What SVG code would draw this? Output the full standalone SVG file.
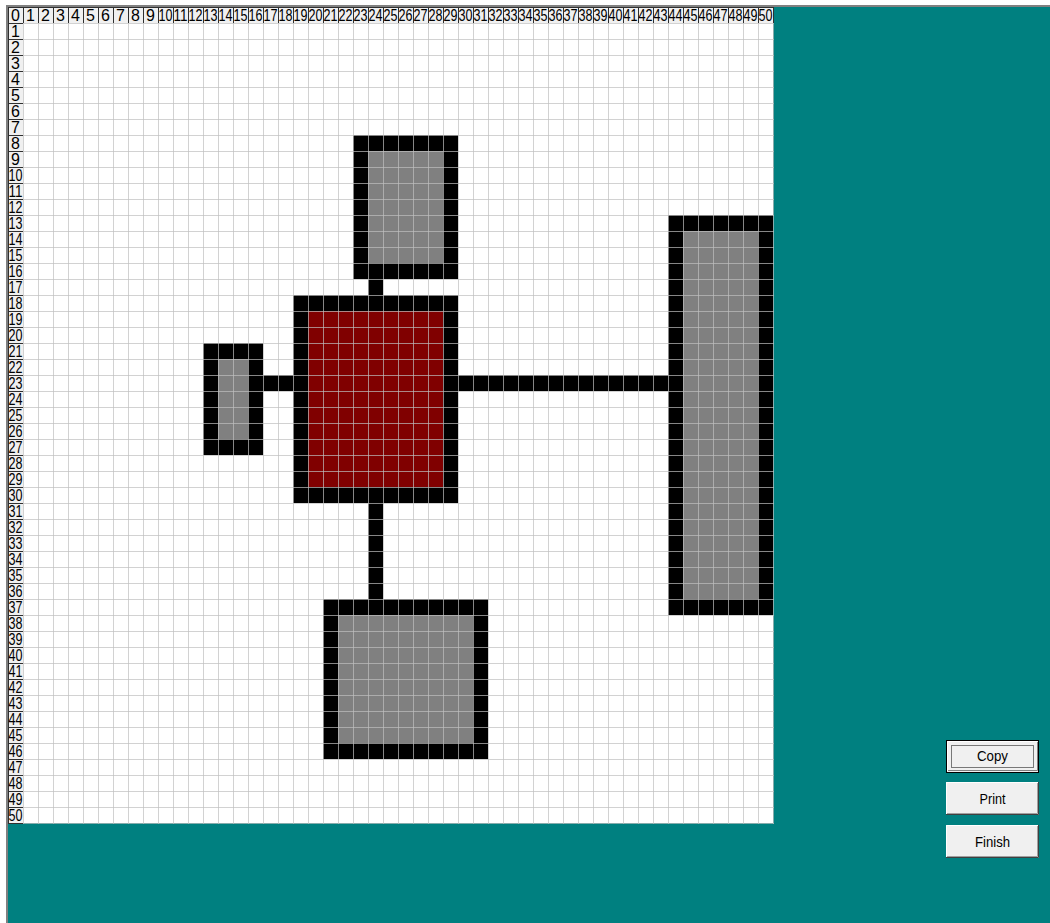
<svg xmlns="http://www.w3.org/2000/svg" width="1050" height="923" viewBox="0 0 1050 923">
<style>
.hd{font-family:"Liberation Sans",Arial,sans-serif;font-size:16px;fill:#000;text-anchor:middle}
.bt{font-family:"Liberation Sans",Arial,sans-serif;font-size:15px;fill:#000;text-anchor:middle}
.blk{fill:#000}
.gry{fill:#808080}
.red{fill:#800000}
.btn{fill:#f0f0f0}
</style>
<defs>
<pattern id="grid" x="8" y="7" width="15" height="16" patternUnits="userSpaceOnUse">
<path d="M0.5 0V16M0 0.5H15" stroke="#c0c0c0" stroke-opacity="0.7" stroke-width="1" fill="none"/>
</pattern>
<pattern id="hgrid" x="8" y="7" width="15" height="16" patternUnits="userSpaceOnUse">
<path d="M0.5 0V16M0 0.5H15" stroke="#303030" stroke-width="1" fill="none"/>
</pattern>
</defs>
<rect x="0" y="0" width="1050" height="923" fill="#fff"/>
<rect x="6" y="5" width="1044" height="918" fill="#008080"/>
<rect x="6" y="5" width="1044" height="2" fill="#808080"/>
<rect x="6" y="5" width="2" height="918" fill="#808080"/>
<rect x="8" y="7" width="765" height="816" fill="#fff"/>
<g id="headers">
<rect x="8" y="7" width="765" height="16" fill="#f0f0f0"/>
<rect x="8" y="23" width="15" height="800" fill="#f0f0f0"/>
<rect x="8" y="7" width="766" height="16" fill="url(#hgrid)"/>
<rect x="8" y="7" width="15" height="817" fill="url(#hgrid)"/>
<g class="hd">
<text x="15.5" y="21">0</text><text x="30.5" y="21">1</text><text x="45.5" y="21">2</text><text x="60.5" y="21">3</text><text x="75.5" y="21">4</text><text x="90.5" y="21">5</text><text x="105.5" y="21">6</text><text x="120.5" y="21">7</text><text x="135.5" y="21">8</text><text x="150.5" y="21">9</text>
<text x="165.5" y="21" textLength="14" lengthAdjust="spacingAndGlyphs">10</text><text x="180.5" y="21" textLength="14" lengthAdjust="spacingAndGlyphs">11</text><text x="195.5" y="21" textLength="14" lengthAdjust="spacingAndGlyphs">12</text><text x="210.5" y="21" textLength="14" lengthAdjust="spacingAndGlyphs">13</text><text x="225.5" y="21" textLength="14" lengthAdjust="spacingAndGlyphs">14</text><text x="240.5" y="21" textLength="14" lengthAdjust="spacingAndGlyphs">15</text><text x="255.5" y="21" textLength="14" lengthAdjust="spacingAndGlyphs">16</text><text x="270.5" y="21" textLength="14" lengthAdjust="spacingAndGlyphs">17</text><text x="285.5" y="21" textLength="14" lengthAdjust="spacingAndGlyphs">18</text><text x="300.5" y="21" textLength="14" lengthAdjust="spacingAndGlyphs">19</text>
<text x="315.5" y="21" textLength="14" lengthAdjust="spacingAndGlyphs">20</text><text x="330.5" y="21" textLength="14" lengthAdjust="spacingAndGlyphs">21</text><text x="345.5" y="21" textLength="14" lengthAdjust="spacingAndGlyphs">22</text><text x="360.5" y="21" textLength="14" lengthAdjust="spacingAndGlyphs">23</text><text x="375.5" y="21" textLength="14" lengthAdjust="spacingAndGlyphs">24</text><text x="390.5" y="21" textLength="14" lengthAdjust="spacingAndGlyphs">25</text><text x="405.5" y="21" textLength="14" lengthAdjust="spacingAndGlyphs">26</text><text x="420.5" y="21" textLength="14" lengthAdjust="spacingAndGlyphs">27</text><text x="435.5" y="21" textLength="14" lengthAdjust="spacingAndGlyphs">28</text><text x="450.5" y="21" textLength="14" lengthAdjust="spacingAndGlyphs">29</text>
<text x="465.5" y="21" textLength="14" lengthAdjust="spacingAndGlyphs">30</text><text x="480.5" y="21" textLength="14" lengthAdjust="spacingAndGlyphs">31</text><text x="495.5" y="21" textLength="14" lengthAdjust="spacingAndGlyphs">32</text><text x="510.5" y="21" textLength="14" lengthAdjust="spacingAndGlyphs">33</text><text x="525.5" y="21" textLength="14" lengthAdjust="spacingAndGlyphs">34</text><text x="540.5" y="21" textLength="14" lengthAdjust="spacingAndGlyphs">35</text><text x="555.5" y="21" textLength="14" lengthAdjust="spacingAndGlyphs">36</text><text x="570.5" y="21" textLength="14" lengthAdjust="spacingAndGlyphs">37</text><text x="585.5" y="21" textLength="14" lengthAdjust="spacingAndGlyphs">38</text><text x="600.5" y="21" textLength="14" lengthAdjust="spacingAndGlyphs">39</text>
<text x="615.5" y="21" textLength="14" lengthAdjust="spacingAndGlyphs">40</text><text x="630.5" y="21" textLength="14" lengthAdjust="spacingAndGlyphs">41</text><text x="645.5" y="21" textLength="14" lengthAdjust="spacingAndGlyphs">42</text><text x="660.5" y="21" textLength="14" lengthAdjust="spacingAndGlyphs">43</text><text x="675.5" y="21" textLength="14" lengthAdjust="spacingAndGlyphs">44</text><text x="690.5" y="21" textLength="14" lengthAdjust="spacingAndGlyphs">45</text><text x="705.5" y="21" textLength="14" lengthAdjust="spacingAndGlyphs">46</text><text x="720.5" y="21" textLength="14" lengthAdjust="spacingAndGlyphs">47</text><text x="735.5" y="21" textLength="14" lengthAdjust="spacingAndGlyphs">48</text><text x="750.5" y="21" textLength="14" lengthAdjust="spacingAndGlyphs">49</text>
<text x="765.5" y="21" textLength="14" lengthAdjust="spacingAndGlyphs">50</text>
<text x="15.5" y="37">1</text><text x="15.5" y="53">2</text><text x="15.5" y="69">3</text><text x="15.5" y="85">4</text><text x="15.5" y="101">5</text><text x="15.5" y="117">6</text><text x="15.5" y="133">7</text><text x="15.5" y="149">8</text><text x="15.5" y="165">9</text>
<text x="15.5" y="181" textLength="14" lengthAdjust="spacingAndGlyphs">10</text><text x="15.5" y="197" textLength="14" lengthAdjust="spacingAndGlyphs">11</text><text x="15.5" y="213" textLength="14" lengthAdjust="spacingAndGlyphs">12</text><text x="15.5" y="229" textLength="14" lengthAdjust="spacingAndGlyphs">13</text><text x="15.5" y="245" textLength="14" lengthAdjust="spacingAndGlyphs">14</text><text x="15.5" y="261" textLength="14" lengthAdjust="spacingAndGlyphs">15</text><text x="15.5" y="277" textLength="14" lengthAdjust="spacingAndGlyphs">16</text><text x="15.5" y="293" textLength="14" lengthAdjust="spacingAndGlyphs">17</text><text x="15.5" y="309" textLength="14" lengthAdjust="spacingAndGlyphs">18</text><text x="15.5" y="325" textLength="14" lengthAdjust="spacingAndGlyphs">19</text>
<text x="15.5" y="341" textLength="14" lengthAdjust="spacingAndGlyphs">20</text><text x="15.5" y="357" textLength="14" lengthAdjust="spacingAndGlyphs">21</text><text x="15.5" y="373" textLength="14" lengthAdjust="spacingAndGlyphs">22</text><text x="15.5" y="389" textLength="14" lengthAdjust="spacingAndGlyphs">23</text><text x="15.5" y="405" textLength="14" lengthAdjust="spacingAndGlyphs">24</text><text x="15.5" y="421" textLength="14" lengthAdjust="spacingAndGlyphs">25</text><text x="15.5" y="437" textLength="14" lengthAdjust="spacingAndGlyphs">26</text><text x="15.5" y="453" textLength="14" lengthAdjust="spacingAndGlyphs">27</text><text x="15.5" y="469" textLength="14" lengthAdjust="spacingAndGlyphs">28</text><text x="15.5" y="485" textLength="14" lengthAdjust="spacingAndGlyphs">29</text>
<text x="15.5" y="501" textLength="14" lengthAdjust="spacingAndGlyphs">30</text><text x="15.5" y="517" textLength="14" lengthAdjust="spacingAndGlyphs">31</text><text x="15.5" y="533" textLength="14" lengthAdjust="spacingAndGlyphs">32</text><text x="15.5" y="549" textLength="14" lengthAdjust="spacingAndGlyphs">33</text><text x="15.5" y="565" textLength="14" lengthAdjust="spacingAndGlyphs">34</text><text x="15.5" y="581" textLength="14" lengthAdjust="spacingAndGlyphs">35</text><text x="15.5" y="597" textLength="14" lengthAdjust="spacingAndGlyphs">36</text><text x="15.5" y="613" textLength="14" lengthAdjust="spacingAndGlyphs">37</text><text x="15.5" y="629" textLength="14" lengthAdjust="spacingAndGlyphs">38</text><text x="15.5" y="645" textLength="14" lengthAdjust="spacingAndGlyphs">39</text>
<text x="15.5" y="661" textLength="14" lengthAdjust="spacingAndGlyphs">40</text><text x="15.5" y="677" textLength="14" lengthAdjust="spacingAndGlyphs">41</text><text x="15.5" y="693" textLength="14" lengthAdjust="spacingAndGlyphs">42</text><text x="15.5" y="709" textLength="14" lengthAdjust="spacingAndGlyphs">43</text><text x="15.5" y="725" textLength="14" lengthAdjust="spacingAndGlyphs">44</text><text x="15.5" y="741" textLength="14" lengthAdjust="spacingAndGlyphs">45</text><text x="15.5" y="757" textLength="14" lengthAdjust="spacingAndGlyphs">46</text><text x="15.5" y="773" textLength="14" lengthAdjust="spacingAndGlyphs">47</text><text x="15.5" y="789" textLength="14" lengthAdjust="spacingAndGlyphs">48</text><text x="15.5" y="805" textLength="14" lengthAdjust="spacingAndGlyphs">49</text>
<text x="15.5" y="821" textLength="14" lengthAdjust="spacingAndGlyphs">50</text>
</g>
</g>
<g id="connectors">
<rect class="blk" x="368" y="279" width="15" height="16"/>
<rect class="blk" x="263" y="375" width="30" height="16"/>
<rect class="blk" x="458" y="375" width="210" height="16"/>
<rect class="blk" x="368" y="503" width="15" height="96"/>
</g>
<g id="node-top">
<rect class="blk" x="353" y="135" width="105" height="144"/>
<rect class="gry" x="368" y="151" width="75" height="112"/>
</g>
<g id="node-center">
<rect class="blk" x="293" y="295" width="165" height="208"/>
<rect class="red" x="308" y="311" width="135" height="176"/>
</g>
<g id="node-left">
<rect class="blk" x="203" y="343" width="60" height="112"/>
<rect class="gry" x="218" y="359" width="30" height="80"/>
</g>
<g id="node-right">
<rect class="blk" x="668" y="215" width="105" height="400"/>
<rect class="gry" x="683" y="231" width="75" height="368"/>
</g>
<g id="node-bottom">
<rect class="blk" x="323" y="599" width="165" height="160"/>
<rect class="gry" x="338" y="615" width="135" height="128"/>
</g>
<rect id="gridlines" x="23" y="23" width="751" height="801" fill="url(#grid)"/>
<g id="btn-copy">
<rect x="946" y="740" width="93" height="33" fill="#000"/>
<rect class="btn" x="947" y="741" width="91" height="31" stroke="#fff" stroke-width="0"/>
<path d="M947.5 771V741.5H1037" stroke="#fff" fill="none"/>
<path d="M948 770.5H1037.5V742" stroke="#808080" fill="none"/>
<rect x="951.5" y="745.5" width="82" height="22" fill="none" stroke="#000" stroke-width="1" stroke-dasharray="1 1"/>
<text class="bt" x="992.5" y="761" textLength="31" lengthAdjust="spacingAndGlyphs">Copy</text>
</g>
<g id="btn-print">
<rect class="btn" x="946" y="782" width="93" height="33"/>
<path d="M946.5 814V782.5H1038" stroke="#fff" fill="none"/>
<path d="M946 814.5H1038.5V782" stroke="#404040" fill="none"/>
<path d="M947 813.5H1037.5V783" stroke="#a0a0a0" fill="none"/>
<text class="bt" x="992.5" y="804" textLength="26" lengthAdjust="spacingAndGlyphs">Print</text>
</g>
<g id="btn-finish">
<rect class="btn" x="946" y="825" width="93" height="33"/>
<path d="M946.5 857V825.5H1038" stroke="#fff" fill="none"/>
<path d="M946 857.5H1038.5V825" stroke="#404040" fill="none"/>
<path d="M947 856.5H1037.5V826" stroke="#a0a0a0" fill="none"/>
<text class="bt" x="992.5" y="847" textLength="35" lengthAdjust="spacingAndGlyphs">Finish</text>
</g>
</svg>
